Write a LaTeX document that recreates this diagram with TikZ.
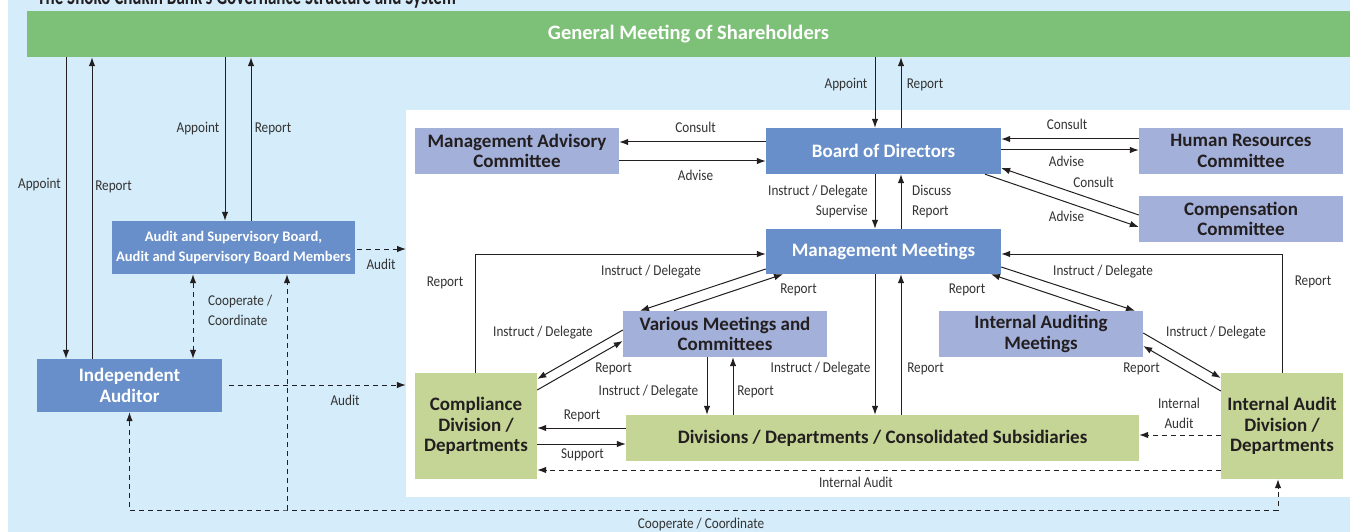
\documentclass[tikz,border=0pt]{standalone}
\usepackage{fontspec}
\setmainfont{Carlito}
\newfontfamily\condfont[FakeStretch=0.88]{Carlito}
\usetikzlibrary{arrows.meta,calc}
\definecolor{bgblue}{HTML}{D5ECFA}
\definecolor{gbar}{HTML}{7DC077}
\definecolor{dblue}{HTML}{688FC9}
\definecolor{lpurp}{HTML}{A3B0DA}
\definecolor{lgreen}{HTML}{C4D596}
\definecolor{ln}{HTML}{231F20}
\definecolor{txt}{HTML}{231F20}
\definecolor{lbltxt}{HTML}{333333}
\newcommand{\boxfont}{\fontsize{19}{20.5}\selectfont\bfseries}
\newcommand{\smboxfont}{\fontsize{14.6}{20}\selectfont\bfseries}
\newcommand{\labfont}{\condfont\fontsize{15}{19.5}\selectfont}
\begin{document}
\begin{tikzpicture}[x=1pt,y=-1pt,
  box/.style={inner sep=0pt, align=center, font=\boxfont},
  dk/.style={box, fill=dblue, text=white},
  lp/.style={box, fill=lpurp, text=txt},
  lg/.style={box, fill=lgreen, text=txt},
  arr/.style={draw=ln, line width=1pt, -{Latex[length=9pt,width=6.5pt]}},
  dsh/.style={draw=ln, line width=1pt, dash pattern=on 5pt off 4pt},
  darr/.style={dsh, -{Latex[length=9pt,width=6.5pt]}},
  lbl/.style={font=\labfont, text=lbltxt, inner sep=0pt, align=center},
]
\useasboundingbox (0,0) rectangle (1350,532);
\fill[bgblue] (8,0) rectangle (1350,532);
\node[fill=white, inner sep=0pt, minimum width=944pt, minimum height=387pt, anchor=north west] (panel) at (406,110) {};
\node[anchor=base west, font=\fontsize{24}{24}\selectfont\bfseries, text=txt, inner sep=0pt] (title) at (37,5) {\scalebox{0.71}[1]{The Shoko Chukin Bank's Governance Structure and System}};

% boxes
\node[dk, fill=gbar, font=\fontsize{20.5}{22}\selectfont\bfseries, minimum width=1323pt, minimum height=46pt] (gms) at (688.5,34) {General Meeting of Shareholders};
\node[dk, font=\smboxfont, minimum width=243pt, minimum height=53pt] (asb) at (233.5,247.5) {Audit and Supervisory Board,\\Audit and Supervisory Board Members};
\node[dk, minimum width=185pt, minimum height=53pt] (ia) at (129.5,385.5) {Independent\\Auditor};
\node[lp, minimum width=204pt, minimum height=46pt] (mac) at (517,151) {Management Advisory\\Committee};
\node[dk, minimum width=235pt, minimum height=46pt] (bod) at (883.5,151) {Board of Directors};
\node[lp, minimum width=204pt, minimum height=46pt] (hr) at (1241,151) {Human Resources\\Committee};
\node[lp, minimum width=204pt, minimum height=46pt] (comp) at (1241,219) {Compensation\\Committee};
\node[dk, minimum width=235pt, minimum height=45pt] (mm) at (883.5,251.5) {Management Meetings};
\node[lp, minimum width=204pt, minimum height=46pt] (vm) at (725,334) {Various Meetings and\\Committees};
\node[lp, minimum width=204pt, minimum height=46pt] (iam) at (1041,334) {Internal Auditing\\Meetings};
\node[lg, minimum width=122pt, minimum height=106pt] (cd) at (476,426) {Compliance\\Division /\\Departments};
\node[lg, minimum width=513pt, minimum height=46pt] (dd) at (882.5,438) {Divisions / Departments / Consolidated Subsidiaries};
\node[lg, minimum width=122pt, minimum height=106pt] (iad) at (1282,426) {Internal Audit\\Division /\\Departments};

% GMS connectors
\draw[arr] (gms.south -| 66,0) -- (ia.north -| 66,0);
\draw[arr] (ia.north -| 92,0) -- (gms.south -| 92,0);
\draw[arr] (gms.south -| 225,0) -- (asb.north -| 225,0);
\draw[arr] (asb.north -| 251,0) -- (gms.south -| 251,0);
\draw[arr] (gms.south -| 875,0) -- (bod.north -| 875,0);
\draw[arr] (bod.north -| 901,0) -- (gms.south -| 901,0);

% audit (left)
\draw[darr, shorten <=2pt] (asb.east |- 0,249) -- (panel.west |- 0,249);
\draw[dsh, {Latex[length=9pt,width=6.5pt]}-{Latex[length=9pt,width=6.5pt]}] (asb.south -| 193,0) -- (ia.north -| 193,0);
\draw[darr, shorten <=7pt, shorten >=9pt] (ia.east |- 0,385) -- (cd.west |- 0,385);
\coordinate (j1) at (287,510);
\draw[dsh, {Latex[length=9pt,width=6.5pt]}-{Latex[length=9pt,width=6.5pt]}] (ia.south) -- (ia.south |- j1) -- (j1) -- (1278,510) -- (iad.south -| 1278,0);
\draw[darr] (j1) -- (asb.south -| j1);

% board
\draw[arr] (bod.west |- 0,142) -- (mac.east |- 0,142);
\draw[arr] (mac.east |- 0,161) -- (bod.west |- 0,161);
\draw[arr] (hr.west |- 0,139) -- (bod.east |- 0,139);
\draw[arr] (bod.east |- 0,150) -- (hr.west |- 0,150);
\draw[arr] (comp.west |- 0,215) -- (bod.east |- 0,168);
\draw[arr] (bod.south -| 985,0) -- (comp.west |- 0,227);
\draw[arr] (bod.south -| 875,0) -- (mm.north -| 875,0);
\draw[arr] (mm.north -| 901,0) -- (bod.south -| 901,0);

% management meetings
\draw[arr] (cd.north -| 475,0) |- (mm.west |- 0,254);
\draw[arr] (iad.north) |- (mm.east |- 0,254);
\draw[arr] (mm.west |- 0,269) -- (vm.north -| 640,0);
\draw[arr] (vm.north -| 674,0) -- (mm.south -| 783,0);
\draw[arr] (mm.east |- 0,267) -- (iam.north -| 1135,0);
\draw[arr] (iam.north -| 1100,0) -- (mm.south -| 991,0);
\draw[arr] (mm.south -| 875,0) -- (dd.north -| 875,0);
\draw[arr] (dd.north -| 901,0) -- (mm.south -| 901,0);

% various meetings / internal auditing
\draw[arr] (vm.west |- 0,330) -- (cd.east |- 0,379);
\draw[arr] (cd.east |- 0,390) -- (vm.west |- 0,341);
\draw[arr] (vm.south -| 707,0) -- (dd.north -| 707,0);
\draw[arr] (dd.north -| 733,0) -- (vm.south -| 733,0);
\draw[arr] (iam.east |- 0,333) -- (iad.west |- 0,378);
\draw[arr] (iad.west |- 0,391) -- (iam.east |- 0,346);

% bottom
\draw[arr] (dd.west |- 0,428) -- (cd.east |- 0,428);
\draw[arr] (cd.east |- 0,444) -- (dd.west |- 0,444);
\draw[darr] (iad.west |- 0,435) -- (dd.east |- 0,435);
\draw[darr] (iad.west |- 0,470) -- (cd.east |- 0,470);

% labels
\node[lbl] (l1) at (39.5,185) {Appoint};
\node[lbl] (l2) at (113.5,187) {Report};
\node[lbl] (l3) at (198,129) {Appoint};
\node[lbl] (l4) at (273,129) {Report};
\node[lbl] (l5) at (381,264) {Audit};
\node[lbl, anchor=west, align=left] (l6) at (208,310.5) {Cooperate /\\Coordinate};
\node[lbl] (l7) at (345,400) {Audit};
\node[lbl] (l8) at (701,524) {Cooperate / Coordinate};
\node[lbl] (l9) at (846,85) {Appoint};
\node[lbl] (l10) at (925,85) {Report};
\node[lbl] (l11) at (695.5,127) {Consult};
\node[lbl] (l12) at (695.5,175) {Advise};
\node[lbl, anchor=east, align=right] (l13) at (868,201.5) {Instruct / Delegate\\Supervise};
\node[lbl, anchor=west, align=left] (l14) at (912,201.5) {Discuss\\Report};
\node[lbl] (l15) at (1067,124) {Consult};
\node[lbl] (l16) at (1066.5,161) {Advise};
\node[lbl] (l17) at (1093.5,182) {Consult};
\node[lbl] (l18) at (1066.5,216) {Advise};
\node[lbl] (l19) at (445,283) {Report};
\node[lbl] (l20) at (651,272) {Instruct / Delegate};
\node[lbl] (l21) at (798.5,290) {Report};
\node[lbl] (l22) at (967,290) {Report};
\node[lbl] (l23) at (1103,272) {Instruct / Delegate};
\node[lbl] (l24) at (1313,282) {Report};
\node[lbl] (l25) at (543,333) {Instruct / Delegate};
\node[lbl] (l26) at (613.5,369) {Report};
\node[lbl] (l27) at (648.5,392) {Instruct / Delegate};
\node[lbl] (l28) at (755.5,392) {Report};
\node[lbl] (l29) at (820.5,369) {Instruct / Delegate};
\node[lbl] (l30) at (925.5,369) {Report};
\node[lbl] (l31) at (582,416) {Report};
\node[lbl] (l32) at (582.5,455) {Support};
\node[lbl] (l33) at (856,482) {Internal Audit};
\node[lbl] (l34) at (1179,413.5) {Internal\\Audit};
\node[lbl] (l35) at (1216,333) {Instruct / Delegate};
\node[lbl] (l36) at (1141.5,369) {Report};
\end{tikzpicture}
\end{document}
